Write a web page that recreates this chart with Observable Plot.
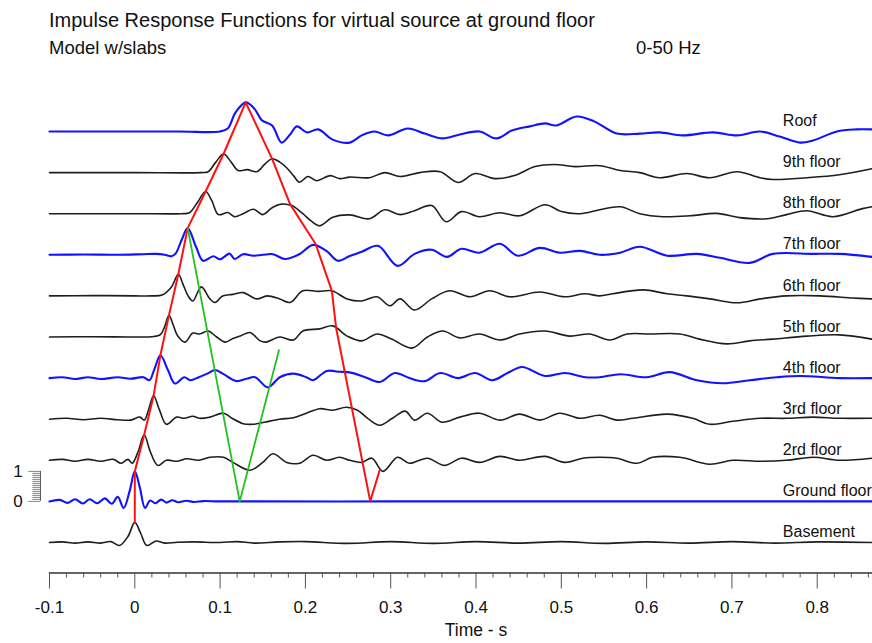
<!DOCTYPE html>
<html><head><meta charset="utf-8">
<script src="https://cdn.jsdelivr.net/npm/d3@7"></script>
<script src="https://cdn.jsdelivr.net/npm/@observablehq/plot@0.6"></script>
<style>
body{margin:0;background:#fff;}
#wrap{position:relative;width:872px;height:643px;overflow:hidden;font-family:"Liberation Sans",Arial,sans-serif;color:#111;}
.hdr{position:absolute;white-space:nowrap;line-height:1;}
#chart{position:absolute;left:0;top:0;}
</style></head><body>
<div id="wrap">
<div id="chart"></div>
<div class="hdr" style="left:49px;top:10px;font-size:20px">Impulse Response Functions for virtual source at ground floor</div>
<div class="hdr" style="left:49px;top:39px;font-size:18.5px">Model w/slabs</div>
<div class="hdr" style="left:636px;top:39px;font-size:18.5px">0-50 Hz</div>
</div>
<script>
// ---- data: [time (s), amplitude] per trace ----
const floors = ["Basement","Ground floor","2rd floor","3rd floor","4th floor","5th floor","6th floor","7th floor","8th floor","9th floor","Roof"];
const blueFloors = ["Ground floor","4th floor","7th floor","Roof"];

const basement = [[-0.1,0],[-0.085,0.02],[-0.07,-0.02],[-0.055,0.02],[-0.04,-0.02],[-0.028,0.03],[-0.018,-0.1],[-0.008,0.2],[0,0.67],[0.007,0.3],[0.014,-0.1],[0.025,0.05],[0.035,-0.02],[0.05,0.01],[0.07,0.02],[0.1,0],[0.12,0.03],[0.14,-0.02],[0.17,0.02],[0.2,0.03],[0.25,-0.03],[0.3,0.03],[0.35,-0.03],[0.4,0.03],[0.45,-0.02],[0.5,0.03],[0.55,-0.03],[0.6,0.02],[0.65,-0.02],[0.7,0.03],[0.75,-0.02],[0.8,0.02],[0.864,0]];
const ground = [[-0.1,0],[-0.088,0.05],[-0.079,-0.05],[-0.07,0.07],[-0.061,-0.07],[-0.053,0.07],[-0.044,-0.06],[-0.035,0.1],[-0.027,-0.08],[-0.02,0.15],[-0.013,-0.22],[-0.006,0.35],[0,1.0],[0.006,0.45],[0.012,-0.22],[0.018,0.03],[0.024,-0.06],[0.031,0.06],[0.037,-0.04],[0.044,0.04],[0.051,-0.03],[0.06,0.02],[0.07,-0.02],[0.08,0.01],[0.1,0],[0.3,0],[0.6,0],[0.864,0]];
const floor2 = [[-0.1,0],[-0.085,0.03],[-0.07,-0.03],[-0.055,0.03],[-0.04,-0.03],[-0.025,0.03],[-0.016,-0.1],[-0.008,0.03],[-0.003,-0.1],[0.004,0.3],[0.011,0.85],[0.018,0.3],[0.027,-0.17],[0.037,0],[0.05,-0.03],[0.061,0.05],[0.075,0],[0.088,0.1],[0.104,0.1],[0.115,-0.07],[0.135,-0.33],[0.15,-0.07],[0.162,0.22],[0.178,-0.07],[0.193,-0.1],[0.209,0.17],[0.225,0],[0.24,0.1],[0.252,0],[0.266,-0.07],[0.278,0.07],[0.291,-0.37],[0.308,0.1],[0.322,-0.1],[0.343,0.07],[0.363,-0.17],[0.383,0.07],[0.404,-0.07],[0.428,0.13],[0.451,0],[0.481,0.13],[0.504,-0.07],[0.525,0.07],[0.545,0.1],[0.565,0.07],[0.589,-0.1],[0.607,0.1],[0.639,0.1],[0.674,-0.13],[0.701,0],[0.733,-0.03],[0.764,0],[0.795,0.1],[0.826,0],[0.864,0.07]];
const floor3 = [[-0.1,0],[-0.08,0.03],[-0.06,-0.02],[-0.04,0.03],[-0.02,-0.02],[-0.005,-0.03],[0.006,0.07],[0.011,-0.03],[0.016,0.3],[0.022,0.78],[0.029,0.3],[0.037,-0.17],[0.049,0.07],[0.058,0.03],[0.068,0.1],[0.076,0.03],[0.088,0.07],[0.104,0.2],[0.113,0.05],[0.127,-0.15],[0.139,-0.17],[0.152,-0.1],[0.17,0],[0.186,0.05],[0.201,0.2],[0.217,0.35],[0.232,0.3],[0.248,0.4],[0.261,0.3],[0.273,0.03],[0.287,-0.2],[0.302,0.03],[0.317,0.27],[0.328,-0.03],[0.343,0.2],[0.36,-0.1],[0.381,0.07],[0.404,0.2],[0.428,-0.03],[0.451,0.17],[0.475,-0.03],[0.498,0.2],[0.522,0.03],[0.545,0.13],[0.565,-0.03],[0.584,0.03],[0.624,0.17],[0.654,0.03],[0.674,-0.17],[0.701,-0.07],[0.733,0.03],[0.764,0.03],[0.795,0.07],[0.826,0.03],[0.864,0.03]];
const floor4 = [[-0.1,0],[-0.085,0.03],[-0.07,-0.03],[-0.055,0.03],[-0.04,-0.03],[-0.02,0.03],[-0.005,-0.02],[0.01,0.03],[0.017,-0.07],[0.023,0.3],[0.03,0.76],[0.039,0.26],[0.047,-0.18],[0.058,0.03],[0.065,-0.07],[0.075,0.03],[0.085,0.15],[0.094,0.27],[0.103,0.15],[0.119,-0.1],[0.131,-0.02],[0.141,0.03],[0.156,-0.31],[0.17,0.03],[0.186,0.15],[0.201,0.03],[0.209,-0.07],[0.225,0.24],[0.24,0.21],[0.252,0.19],[0.27,0.03],[0.287,-0.13],[0.305,0.17],[0.322,0],[0.34,-0.1],[0.358,0.17],[0.379,0],[0.399,0.17],[0.419,-0.07],[0.437,0.17],[0.454,0.37],[0.481,0.07],[0.504,0.17],[0.528,0.03],[0.545,0.03],[0.569,0.13],[0.6,0.03],[0.627,0.2],[0.659,-0.07],[0.689,-0.17],[0.721,-0.07],[0.753,0.03],[0.78,0.07],[0.826,0],[0.864,0]];
const floor5 = [[-0.1,0],[-0.05,0.01],[0,0],[0.02,0.01],[0.03,0.08],[0.035,0.35],[0.04,0.72],[0.045,0.4],[0.05,0.05],[0.059,-0.17],[0.068,0.13],[0.076,0.1],[0.086,0.2],[0.096,0],[0.106,-0.17],[0.115,-0.05],[0.125,0.05],[0.135,0.15],[0.147,-0.13],[0.154,-0.17],[0.17,0],[0.186,-0.1],[0.197,0.2],[0.217,0.27],[0.232,0.37],[0.249,0.03],[0.266,-0.13],[0.284,0.1],[0.301,-0.07],[0.325,-0.37],[0.343,0],[0.361,0.2],[0.381,-0.03],[0.404,0.1],[0.428,-0.1],[0.451,0.1],[0.481,0.2],[0.51,0.03],[0.533,0.1],[0.557,-0.1],[0.577,0.1],[0.604,0.1],[0.639,0.1],[0.662,-0.07],[0.694,-0.23],[0.721,-0.13],[0.748,-0.07],[0.788,0.03],[0.826,0.07],[0.864,-0.07]];
const floor6 = [[-0.1,0],[-0.05,0.01],[0,0],[0.02,0],[0.032,0.03],[0.043,0.3],[0.051,0.72],[0.057,0.35],[0.0625,0],[0.068,-0.17],[0.078,0.3],[0.088,-0.1],[0.094,-0.22],[0.103,0],[0.115,0.05],[0.127,0.11],[0.143,-0.1],[0.155,0],[0.17,-0.1],[0.182,-0.22],[0.197,0.17],[0.215,0.15],[0.231,0.17],[0.249,-0.1],[0.266,-0.17],[0.284,-0.03],[0.299,-0.33],[0.311,-0.1],[0.328,-0.47],[0.348,-0.1],[0.369,0.17],[0.393,-0.03],[0.416,0.17],[0.44,-0.03],[0.475,0.13],[0.504,-0.03],[0.528,0.07],[0.545,0],[0.56,0.07],[0.596,0.2],[0.624,0.07],[0.647,0],[0.674,-0.1],[0.706,-0.23],[0.733,-0.1],[0.764,0],[0.803,0],[0.842,-0.07],[0.864,-0.1]];
const floor7 = [[-0.1,0],[-0.06,0.01],[-0.02,0],[0.01,0.02],[0.025,0.03],[0.035,0],[0.043,-0.05],[0.048,0.05],[0.055,0.5],[0.062,0.89],[0.072,0.25],[0.08,-0.2],[0.092,-0.05],[0.1,-0.15],[0.111,0.04],[0.117,-0.14],[0.127,0.02],[0.139,-0.03],[0.15,0],[0.162,0.02],[0.176,-0.14],[0.193,0.02],[0.209,0.33],[0.225,0.12],[0.238,-0.2],[0.252,-0.04],[0.266,0.1],[0.285,0.3],[0.308,-0.37],[0.328,0.03],[0.348,0.17],[0.366,-0.07],[0.383,0.2],[0.404,0.07],[0.428,0.37],[0.449,-0.03],[0.475,0.23],[0.498,0.07],[0.522,0.13],[0.545,0],[0.569,0.07],[0.592,0.27],[0.624,-0.03],[0.659,0.03],[0.686,-0.1],[0.721,-0.27],[0.748,0.03],[0.795,0.03],[0.826,0.03],[0.864,-0.07]];
const floor8 = [[-0.1,0],[0,0],[0.055,0],[0.064,0.03],[0.074,0.4],[0.083,0.74],[0.09,0.45],[0.098,-0.03],[0.109,0.04],[0.117,-0.1],[0.127,0],[0.139,0.15],[0.15,-0.03],[0.161,0.2],[0.172,0.32],[0.184,0.27],[0.197,0],[0.207,-0.25],[0.217,-0.4],[0.232,-0.12],[0.252,-0.04],[0.275,-0.17],[0.293,0.13],[0.311,-0.03],[0.328,0.1],[0.348,0.27],[0.365,-0.27],[0.383,0.07],[0.404,-0.1],[0.428,0.03],[0.451,-0.07],[0.481,0.3],[0.5,0.07],[0.522,0],[0.545,0.13],[0.569,0.23],[0.592,0],[0.619,-0.1],[0.651,-0.07],[0.682,0.01],[0.709,-0.13],[0.741,-0.17],[0.764,-0.03],[0.788,0.1],[0.818,-0.1],[0.853,0.17],[0.864,0.23]];
const floor9 = [[-0.1,0],[0,0],[0.078,0],[0.086,0.03],[0.095,0.35],[0.104,0.62],[0.113,0.35],[0.121,0.07],[0.132,0.1],[0.143,0.03],[0.153,0.3],[0.161,0.46],[0.17,0.35],[0.178,0.16],[0.186,-0.1],[0.193,-0.32],[0.203,-0.13],[0.213,-0.27],[0.229,-0.1],[0.24,-0.2],[0.252,-0.15],[0.275,-0.17],[0.293,0],[0.311,-0.13],[0.334,0],[0.358,0.03],[0.379,-0.33],[0.399,-0.03],[0.422,-0.2],[0.445,-0.1],[0.469,0.2],[0.492,0.27],[0.516,0.2],[0.545,0.23],[0.569,0.07],[0.592,0],[0.615,-0.17],[0.647,-0.03],[0.674,-0.17],[0.706,0.03],[0.733,-0.17],[0.748,-0.23],[0.788,-0.17],[0.826,-0.07],[0.864,0.13]];
const roof = [[-0.1,0],[0.05,0],[0.1,0],[0.109,0.1],[0.118,0.63],[0.13,0.97],[0.14,0.77],[0.149,0.37],[0.161,0.2],[0.172,-0.37],[0.182,-0.1],[0.19,0.17],[0.202,-0.03],[0.215,0.07],[0.232,-0.27],[0.252,-0.37],[0.266,-0.13],[0.281,0],[0.297,-0.13],[0.32,0.1],[0.34,-0.07],[0.361,-0.23],[0.381,-0.1],[0.404,0],[0.424,-0.23],[0.442,0.03],[0.463,0.17],[0.481,0.27],[0.494,0.2],[0.518,0.5],[0.539,0.33],[0.565,-0.07],[0.592,-0.07],[0.615,-0.03],[0.642,-0.13],[0.678,-0.03],[0.706,-0.13],[0.733,0],[0.756,-0.17],[0.78,-0.37],[0.795,-0.3],[0.823,0],[0.846,0.07],[0.864,0.07]];
const traces = [basement, ground, floor2, floor3, floor4, floor5, floor6, floor7, floor8, floor9, roof];

// picked arrivals: [floor index, time, amplitude]
const redPicks = [[0,0,0.67],[1,0,1.0],[2,0.011,0.85],[3,0.022,0.78],[4,0.03,0.76],[5,0.04,0.72],[6,0.051,0.72],[7,0.062,0.89],[8,0.083,0.74],[9,0.104,0.62],[10,0.13,0.97],[9,0.161,0.46],[8,0.182,0.32],[7,0.212,0.36],[6,0.231,0.17],[5,0.236,0.3],[1,0.276,0],[2,0.287,-0.33]];
const greenPicks = [[7,0.062,0.89],[1,0.123,0],[4,0.169,0.93]];

const majorTicks = [-0.1,0,0.1,0.2,0.3,0.4,0.5,0.6,0.7,0.8];
const minorTicks = [-0.08,-0.06,-0.04,-0.02,0.02,0.04,0.06,0.08,0.12,0.14,0.16,0.18,0.22,0.24,0.26,0.28,0.32,0.34,0.36,0.38,0.42,0.44,0.46,0.48,0.52,0.54,0.56,0.58,0.62,0.64,0.66,0.68,0.72,0.74,0.76,0.78,0.82,0.84,0.86];
const scaleBarTicks = d3.range(0, 16).map(i => i / 15);

// ---- layout ----
const spacing = 1.37;
const rows = floors.flatMap((f, i) => traces[i].map(([t, a]) => ({floor: f, t, y: i * spacing + a})));
const pick = p => p.map(([i, t, a]) => ({t, y: i * spacing + a}));

const lineMarks = floors.map(f => {
  const blue = blueFloors.includes(f);
  return Plot.line(rows.filter(d => d.floor === f), {
    x: "t", y: "y", curve: "catmull-rom",
    stroke: blue ? "#1212ff" : "#1e1e1e", strokeWidth: blue ? 2.1 : 1.6
  });
});

const chart = Plot.plot({
  width: 872, height: 643,
  marginLeft: 49, marginRight: 0, marginTop: 80, marginBottom: 70.5,
  style: {fontFamily: "'Liberation Sans', Arial, sans-serif", background: "transparent", overflow: "visible"},
  x: {domain: [-0.1, 0.8648], label: null},
  y: {domain: [-1.0167, 15.4], axis: null},
  marks: [
    Plot.frame({anchor: "bottom", stroke: "#333", strokeWidth: 1.4}),
    Plot.axisX({ticks: minorTicks, tickSize: 5, text: null, stroke: "#555", label: null}),
    Plot.axisX({ticks: majorTicks, tickSize: 16, tickPadding: 12, stroke: "#555", fontSize: 17, fill: "#111", tickFormat: d => String(d), label: null}),
    Plot.text(["Time - s"], {x: 0.4, frameAnchor: "bottom", dy: 63, text: d => d, fontSize: 17.5, fill: "#111"}),
    ...lineMarks,
    Plot.line(pick(redPicks), {x: "t", y: "y", stroke: "#ff1010", strokeWidth: 2}),
    Plot.line(pick(greenPicks), {x: "t", y: "y", stroke: "#22c022", strokeWidth: 1.8}),
    Plot.text(floors, {x: 0.7597, y: (d, i) => i * spacing + 0.35, text: d => d, textAnchor: "start", fontSize: 16, fill: "#111"}),
    // amplitude scale bar
    Plot.ruleX([-0.1106], {y1: spacing, y2: spacing + 1, stroke: "#555", strokeWidth: 1}),
    Plot.ruleY(scaleBarTicks, {y: d => spacing + d, x1: (d, i) => (i === 0 || i === 15) ? -0.1243 : -0.1196, x2: -0.1106, stroke: "#666", strokeWidth: 0.8}),
    Plot.text(["1", "0"], {x: -0.1368, y: (d, i) => spacing + (i === 0 ? 1 : 0), text: d => d, fontSize: 17, fill: "#111"})
  ]
});
document.getElementById("chart").appendChild(chart);
</script>
</body></html>
